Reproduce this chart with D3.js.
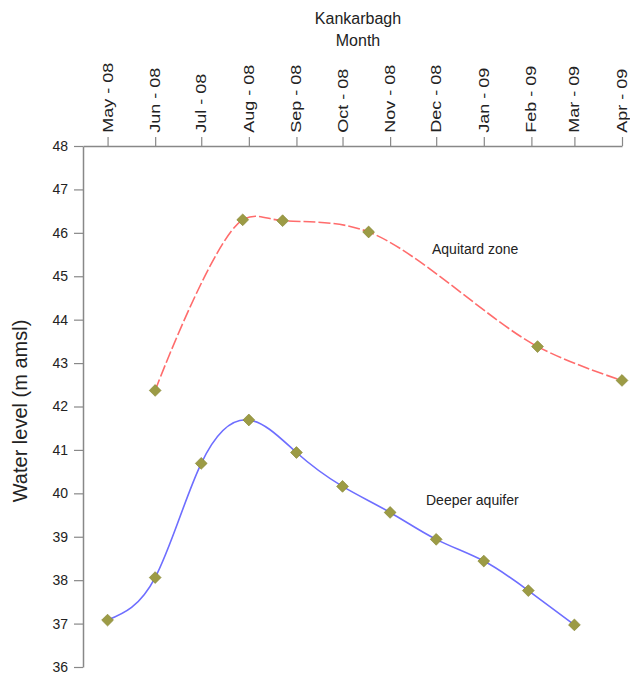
<!DOCTYPE html>
<html>
<head>
<meta charset="utf-8">
<script src="https://cdn.jsdelivr.net/npm/d3@7"></script>
<style>
  body { margin: 0; background: #fff; }
  text { font-family: "Liberation Sans", Arial, sans-serif; fill: #222; }
</style>
</head>
<body>
<div id="chart"></div>
<script>
// month ticks along the top axis
const monthTicks = ['2008-05-01', '2008-06-01', '2008-07-01', '2008-08-01', '2008-09-01', '2008-10-01',
                    '2008-11-01', '2008-12-01', '2009-01-01', '2009-02-01', '2009-03-01', '2009-04-01'];
const monthLabels = ['May - 08', 'Jun - 08', 'Jul - 08', 'Aug - 08', 'Sep - 08', 'Oct - 08',
                     'Nov - 08', 'Dec - 08', 'Jan - 09', 'Feb - 09', 'Mar - 09', 'Apr - 09'];
const yTicks = [36, 37, 38, 39, 40, 41, 42, 43, 44, 45, 46, 47, 48];

// Deeper aquifer
const deeperDates = ['2008-05-01', '2008-06-01', '2008-07-01', '2008-08-01', '2008-09-01', '2008-10-01',
                     '2008-11-01', '2008-12-01', '2009-01-01', '2009-01-30', '2009-03-01'];
const deeperLevels = [37.08, 38.06, 40.69, 41.69, 40.94, 40.16, 39.56, 38.94, 38.44, 37.76, 36.97];

// Aquitard zone
const aquitardDates = ['2008-06-01', '2008-07-28', '2008-08-23', '2008-10-18', '2009-02-05', '2009-04-01'];
const aquitardLevels = [42.37, 46.30, 46.28, 46.02, 43.38, 42.60];

const W = 630, H = 676;
const parse = d3.timeParse('%Y-%m-%d');

const svg = d3.select('#chart').append('svg')
    .attr('width', W)
    .attr('height', H);

const x = d3.scaleTime()
    .domain([parse('2008-04-15'), parse('2009-04-01')])
    .range([83, 622]);

const y = d3.scaleLinear()
    .domain([36, 48])
    .range([667, 146]);

// top axis, labels read bottom-to-top and end just above the ticks
const xAxis = svg.append('g')
    .attr('transform', 'translate(0,146)')
    .call(d3.axisTop(x)
        .tickValues(monthTicks.map(parse))
        .tickFormat((d, i) => monthLabels[i])
        .tickSize(9)
        .tickSizeOuter(0));
xAxis.select('.domain').attr('stroke', '#888').attr('stroke-width', 1.5);
xAxis.selectAll('.tick line').attr('stroke', '#888').attr('stroke-width', 1.2);
xAxis.selectAll('.tick text')
    .attr('transform', 'rotate(-90) scale(1.2,1)')
    .attr('x', 11)
    .attr('y', 0)
    .attr('dy', '0.3em')
    .style('text-anchor', 'start')
    .style('font-size', '15px')
    .style('font-family', '"Liberation Sans", Arial, sans-serif')
    .attr('fill', '#222');

// left axis
const yAxis = svg.append('g')
    .attr('transform', 'translate(83,0)')
    .call(d3.axisLeft(y)
        .tickValues(yTicks)
        .tickSize(9)
        .tickPadding(6)
        .tickSizeOuter(0));
yAxis.select('.domain').attr('stroke', '#888').attr('stroke-width', 1.5);
yAxis.selectAll('.tick line').attr('stroke', '#888').attr('stroke-width', 1.2);
yAxis.selectAll('.tick text')
    .style('font-size', '14px')
    .style('font-family', '"Liberation Sans", Arial, sans-serif')
    .attr('fill', '#222');

// titles
svg.append('text')
    .attr('x', 358).attr('y', 24)
    .attr('text-anchor', 'middle')
    .style('font-size', '16px')
    .text('Kankarbagh');
svg.append('text')
    .attr('x', 358).attr('y', 46)
    .attr('text-anchor', 'middle')
    .style('font-size', '16px')
    .text('Month');

svg.append('text')
    .attr('transform', 'translate(27,411) rotate(-90)')
    .attr('text-anchor', 'middle')
    .style('font-size', '20px')
    .text('Water level (m amsl)');

const deeper = deeperDates.map((d, i) => ({ date: parse(d), v: deeperLevels[i] }));
const aquitard = aquitardDates.map((d, i) => ({ date: parse(d), v: aquitardLevels[i] }));

const deeperLine = d3.line()
    .x(d => x(d.date))
    .y(d => y(d.v))
    .curve(d3.curveNatural);

const aquitardLine = d3.line()
    .x(d => x(d.date))
    .y(d => y(d.v))
    .curve(d3.curveCatmullRom.alpha(0.5));

svg.append('path')
    .datum(aquitard)
    .attr('fill', 'none')
    .attr('stroke', '#ff6c6c')
    .attr('stroke-width', 1.6)
    .attr('stroke-dasharray', '12,3')
    .attr('d', aquitardLine);

svg.append('path')
    .datum(deeper)
    .attr('fill', 'none')
    .attr('stroke', '#6e6eff')
    .attr('stroke-width', 1.6)
    .attr('d', deeperLine);

const diamond = d3.symbol().type(d3.symbolSquare).size(70);

[aquitard, deeper].forEach(series => {
    svg.append('g')
        .selectAll('path')
        .data(series)
        .enter().append('path')
        .attr('d', diamond)
        .attr('transform', d => `translate(${x(d.date)},${y(d.v)}) rotate(45)`)
        .attr('fill', '#9c9b45')
        .attr('stroke', '#84842f')
        .attr('stroke-width', 0.6);
});

// series labels
svg.append('text')
    .attr('x', 432).attr('y', 254)
    .style('font-size', '14px')
    .text('Aquitard zone');
svg.append('text')
    .attr('x', 426).attr('y', 505)
    .style('font-size', '14px')
    .text('Deeper aquifer');
</script>
</body>
</html>
